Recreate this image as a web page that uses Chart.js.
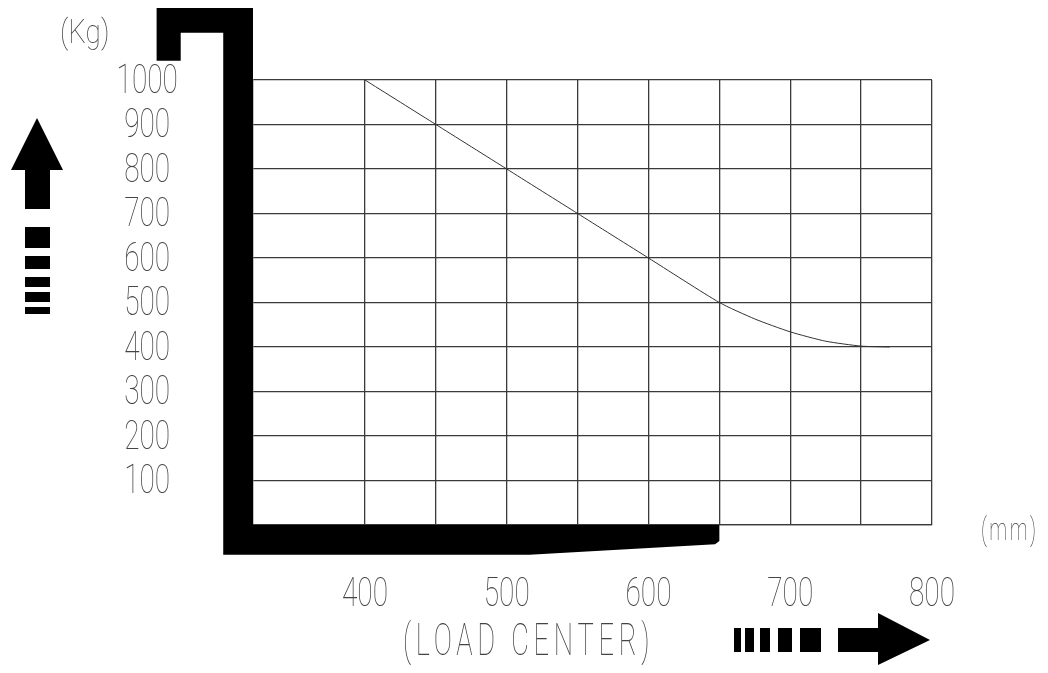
<!DOCTYPE html>
<html><head><meta charset="utf-8">
<style>html,body{margin:0;padding:0;background:#fff}canvas{display:block}</style>
<script src="https://cdn.jsdelivr.net/npm/chart.js@4"></script>
</head><body>
<canvas id="c" width="1048" height="673"></canvas>
<script>
const xGridValues = [400,450,500,550,600,650,700,750,800];
const xTickLabels = {400:'400',500:'500',600:'600',700:'700',800:'800'};
const yGridValues = [0,100,200,300,400,500,600,700,800,900,1000];
const loadCenter = [400,450,500,550,600,650,675,700,725,750,770];
const capacity   = [1000,900,800,700,600,500,463,434,413,402,400];
const forkX = [253,321,321,650,650,647,516,300,300,270,270,253];
const forkY = [1162,1162,0,0,-36,-43,-67,-67,1106,1106,1043,1043];

const FONT = 'Roboto';
const INK = '#444';
let stretch = 0.7;

function poly(ctx, pts){
  ctx.beginPath();
  pts.forEach((p,i)=> i ? ctx.lineTo(p[0],p[1]) : ctx.moveTo(p[0],p[1]));
  ctx.closePath(); ctx.fill();
}
const stretchText = {
  id:'stretchText',
  beforeDraw(chart){
    const ctx = chart.ctx;
    if(ctx.__wrapped) return;
    ctx.__wrapped = true;
    const orig = ctx.fillText;
    ctx.fillText = function(t,x,y){
      const dy = this.textBaseline === 'middle' ? 2.5 : 0;
      this.save(); this.translate(x,y+dy); this.scale(stretch,1);
      orig.call(this,t,0,0); this.restore();
    };
  }
};
const decor = {
  id:'decor',
  afterDatasetsDraw(chart){
    const ctx = chart.ctx;
    const meta = chart.getDatasetMeta(1);
    ctx.save();
    ctx.fillStyle = '#000';
    poly(ctx, meta.data.map(p=>[p.x,p.y]));
    // up arrow
    poly(ctx, [[37,118],[63,170],[50,170],[50,209],[25,209],[25,170],[11,170]]);
    [[227,248],[256,269],[277,287],[292,302],[307,314]].forEach(([a,b])=>ctx.fillRect(25,a,25,b-a));
    // right arrow
    poly(ctx, [[930,640],[878,665],[878,652],[838,652],[838,628],[878,628],[878,613]]);
    [[734,741],[745,754],[760,770],[778,792],[800,821]].forEach(([a,b])=>ctx.fillRect(a,628,b-a,24));
    ctx.restore();
  },
  afterDraw(chart){
    const ctx = chart.ctx;
    ctx.save();
    ctx.fillStyle = INK;
    ctx.textBaseline = 'alphabetic';
    ctx.textAlign = 'left';
    stretch = 0.82;
    ctx.font = `100 34px ${FONT}`;
    ctx.fillText('(Kg)', 60, 43);
    ctx.font = `100 32px ${FONT}`;
    stretch = 0.62;
    ctx.letterSpacing = '4px';
    ctx.fillText('(mm)', 981, 540);
    ctx.font = `100 44px ${FONT}`;
    stretch = 0.62;
    ctx.letterSpacing = '7.6px';
    ctx.fillText('(LOAD CENTER)', 403, 655);
    ctx.letterSpacing = '0px';
    stretch = 0.7;
    ctx.restore();
  }
};
new Chart(document.getElementById('c'), {
  type:'scatter',
  data:{datasets:[
    {label:'Capacity', data:loadCenter.map((x,i)=>({x,y:capacity[i]})), showLine:true, tension:0.2,
     borderColor:'#333', borderWidth:1, pointRadius:0},
    {label:'Fork', data:forkX.map((x,i)=>({x,y:forkY[i]})), showLine:false, clip:false, pointRadius:0,
     borderColor:'#000', backgroundColor:'#000'}
  ]},
  options:{
    responsive:false, animation:false, devicePixelRatio:1,
    layout:{padding:{left:0,top:80,right:116,bottom:0}},
    plugins:{legend:{display:false},tooltip:{enabled:false},title:{display:false}},
    scales:{
      x:{type:'linear',min:321,max:800,
        afterBuildTicks:s=>{s.ticks=xGridValues.map(value=>({value}))},
        afterFit:s=>{s.height=148;s.paddingLeft=0;s.paddingRight=0},
        grid:{color:'#3a3a3a',lineWidth:1.3,drawTicks:false},border:{color:'#3a3a3a',width:1.3},
        ticks:{autoSkip:false,maxRotation:0,minRotation:0,padding:44,color:INK,
          font:{family:FONT,size:40,weight:'100'},
          callback:v=>xTickLabels[v]||''}},
      y:{type:'linear',min:0,max:1000,
        afterBuildTicks:s=>{s.ticks=yGridValues.map(value=>({value}))},
        afterFit:s=>{s.width=253;s.paddingTop=0;s.paddingBottom=0},
        grid:{color:'#3a3a3a',lineWidth:1.3,drawTicks:false},border:{color:'#3a3a3a',width:1.3},
        ticks:{autoSkip:false,crossAlign:'center',padding:62,color:INK,
          font:{family:FONT,size:40,weight:'100'},
          callback:v=>v===0?'':String(v)}}
    }
  },
  plugins:[stretchText,decor]
});
</script>
</body></html>
